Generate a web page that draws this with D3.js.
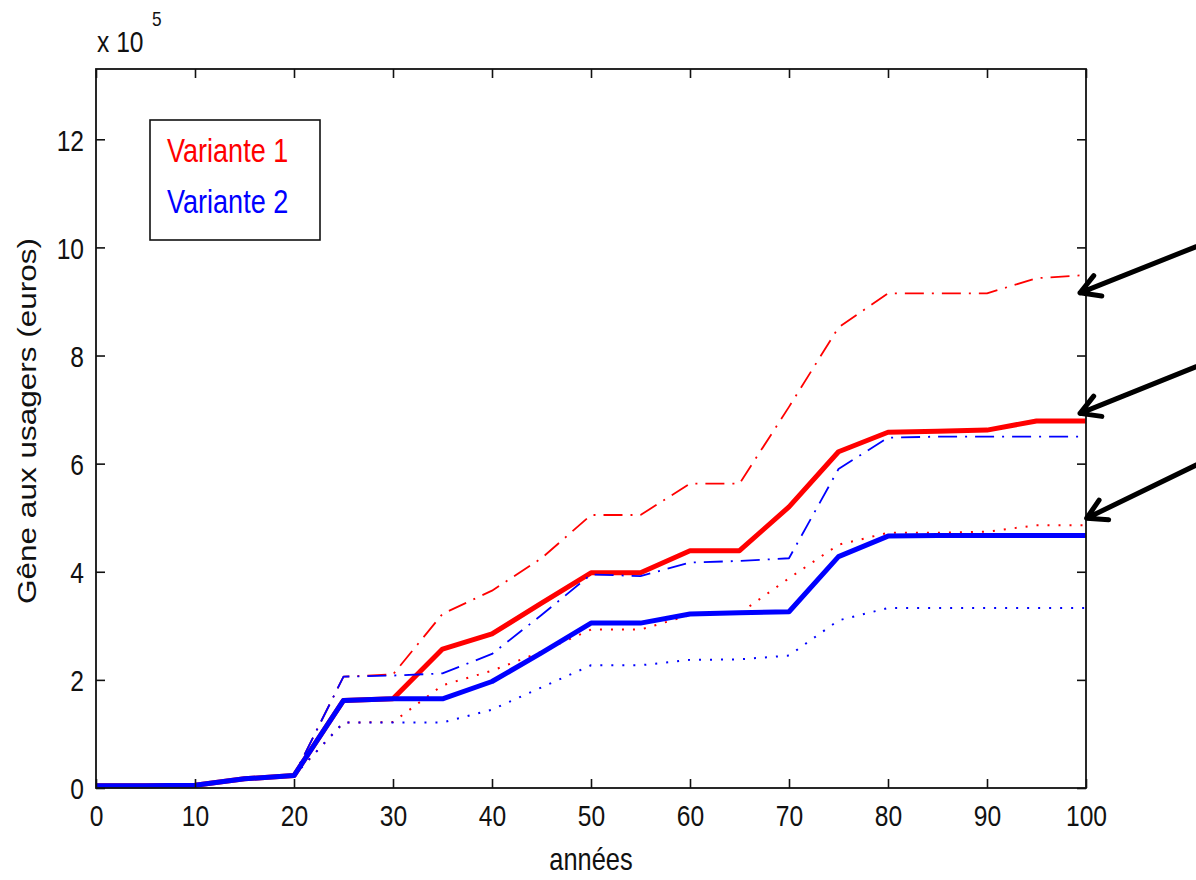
<!DOCTYPE html>
<html>
<head>
<meta charset="utf-8">
<script src="https://cdn.jsdelivr.net/npm/d3@7"></script>
<style>
  html, body { margin: 0; padding: 0; background: #fff; }
  svg { display: block; }
  text { font-family: "Liberation Sans", Arial, sans-serif; fill: #111; }
</style>
</head>
<body>
<svg id="chart" width="1196" height="880"></svg>
<script>
// ---------- data (values in units of 1e5 euros) ----------
const years = [0, 5, 10, 15, 20, 25, 30, 35, 40, 45, 50, 55, 60, 65, 70, 75, 80, 85, 90, 95, 100];

const v1Mid  = [0.04, 0.04, 0.05, 0.17, 0.23, 1.62, 1.65, 2.57, 2.85, 3.42, 3.98, 3.98, 4.39, 4.39, 5.2, 6.22, 6.58, 6.6, 6.62, 6.79, 6.79];
const v1High = [0.04, 0.04, 0.05, 0.17, 0.23, 2.06, 2.1, 3.22, 3.65, 4.25, 5.05, 5.05, 5.63, 5.63, 7.05, 8.52, 9.15, 9.15, 9.15, 9.43, 9.49];
const v1Low  = [0.04, 0.04, 0.05, 0.17, 0.23, 1.21, 1.22, 1.9, 2.17, 2.52, 2.93, 2.93, 3.2, 3.23, 3.88, 4.5, 4.72, 4.72, 4.74, 4.86, 4.86];

const v2Mid  = [0.04, 0.04, 0.05, 0.17, 0.23, 1.62, 1.65, 1.65, 1.97, 2.5, 3.05, 3.05, 3.22, 3.24, 3.26, 4.28, 4.66, 4.67, 4.67, 4.67, 4.67];
const v2High = [0.04, 0.04, 0.05, 0.17, 0.23, 2.06, 2.08, 2.12, 2.48, 3.2, 3.95, 3.92, 4.17, 4.2, 4.25, 5.9, 6.48, 6.5, 6.5, 6.5, 6.5];
const v2Low  = [0.04, 0.04, 0.05, 0.17, 0.23, 1.21, 1.21, 1.21, 1.45, 1.86, 2.27, 2.27, 2.37, 2.38, 2.45, 3.1, 3.33, 3.33, 3.33, 3.33, 3.33];

const xTicks = [0, 10, 20, 30, 40, 50, 60, 70, 80, 90, 100];
const yTicks = [0, 2, 4, 6, 8, 10, 12];
const legendLabels = ["Variante 1", "Variante 2"];
const xLabel = "années";
const yLabel = "Gêne aux usagers (euros)";

// annotation arrows (data coordinates: tip and tail)
const arrowTipX  = [99.4, 99.4, 100.07];
const arrowTipY  = [9.16, 6.93, 4.99];
const arrowTailX = [113, 113, 113];
const arrowTailY = [10.15, 7.93, 6.14];

// ---------- layout ----------
const margin = { left: 96, right: 1086, top: 69, bottom: 788 };
const RED = "#ff0000", BLUE = "#0000ff";
const SQ = 0.82; // horizontal squeeze of the original screenshot text

const svg = d3.select("#chart");
const x = d3.scaleLinear().domain([0, 100]).range([margin.left, margin.right]);
const y = d3.scaleLinear().domain([0, 13.3]).range([margin.bottom, margin.top]);

// ---------- series ----------
const series = [
  { v: v1Low,  color: RED,  width: 2,   dash: "2,9" },
  { v: v1High, color: RED,  width: 1.8, dash: "19,8,2,8" },
  { v: v1Mid,  color: RED,  width: 5,   dash: null },
  { v: v2Low,  color: BLUE, width: 2,   dash: "2,9" },
  { v: v2High, color: BLUE, width: 1.8, dash: "19,8,2,8" },
  { v: v2Mid,  color: BLUE, width: 5,   dash: null }
];
const line = d3.line().x((d, i) => x(years[i])).y(d => y(d));
const gLines = svg.append("g");
series.forEach(s => {
  gLines.append("path")
    .datum(s.v)
    .attr("d", line)
    .attr("fill", "none")
    .attr("stroke", s.color)
    .attr("stroke-width", s.width)
    .attr("stroke-linejoin", "round")
    .attr("stroke-dasharray", s.dash);
});

// ---------- axes (MATLAB style: inward ticks, full box) ----------
const tickLen = 9;
const styleAxis = g => {
  g.select(".domain").remove();
  g.selectAll(".tick line").attr("stroke", "#111").attr("stroke-width", 1.6);
};

const gx = svg.append("g")
  .attr("transform", `translate(0,${margin.bottom})`)
  .call(d3.axisBottom(x).tickValues(xTicks).tickSizeInner(-tickLen).tickSizeOuter(0).tickPadding(0));
styleAxis(gx);
gx.selectAll(".tick text")
  .attr("font-size", 30)
  .attr("y", 38).attr("dy", null)
  .attr("transform", `scale(${SQ},1)`)
  .attr("font-family", "Liberation Sans, Arial, sans-serif")
  .attr("fill", "#111");

const gxTop = svg.append("g")
  .attr("transform", `translate(0,${margin.top})`)
  .call(d3.axisTop(x).tickValues(xTicks).tickSizeInner(-tickLen).tickSizeOuter(0).tickFormat(""));
styleAxis(gxTop);

const gy = svg.append("g")
  .attr("transform", `translate(${margin.left},0)`)
  .call(d3.axisLeft(y).tickValues(yTicks).tickSizeInner(-tickLen).tickSizeOuter(0).tickPadding(0));
styleAxis(gy);
gy.selectAll(".tick text")
  .attr("font-size", 30)
  .attr("x", -12 / SQ).attr("dy", "0.36em")
  .attr("transform", `scale(${SQ},1)`)
  .attr("font-family", "Liberation Sans, Arial, sans-serif")
  .attr("fill", "#111");

const gyRight = svg.append("g")
  .attr("transform", `translate(${margin.right},0)`)
  .call(d3.axisRight(y).tickValues(yTicks).tickSizeInner(-tickLen).tickSizeOuter(0).tickFormat(""));
styleAxis(gyRight);

svg.append("rect")
  .attr("x", margin.left).attr("y", margin.top)
  .attr("width", margin.right - margin.left)
  .attr("height", margin.bottom - margin.top)
  .attr("fill", "none").attr("stroke", "#111").attr("stroke-width", 1.8);

// exponent label
const cx = margin.left + 1;
svg.append("text")
  .attr("transform", `translate(${cx},52) scale(${SQ},1)`)
  .attr("font-size", 30)
  .text("x 10");
svg.append("text")
  .attr("transform", `translate(${cx + 55},26) scale(${SQ},1)`)
  .attr("font-size", 21)
  .text("5");

// axis labels
svg.append("text")
  .attr("transform", `translate(${(margin.left + margin.right) / 2},870) scale(${SQ},1)`)
  .attr("text-anchor", "middle")
  .attr("font-size", 31)
  .text(xLabel);

svg.append("text")
  .attr("transform", `translate(36,421) rotate(-90) scale(1,${SQ})`)
  .attr("text-anchor", "middle")
  .attr("font-size", 31.5)
  .text(yLabel);

// ---------- legend ----------
const lg = svg.append("g");
lg.append("rect")
  .attr("x", 150).attr("y", 120).attr("width", 170).attr("height", 120)
  .attr("fill", "#fff").attr("stroke", "#111").attr("stroke-width", 1.6);
[RED, BLUE].forEach((c, i) => {
  lg.append("text")
    .attr("transform", `translate(167,${162 + i * 51}) scale(${SQ},1)`)
    .attr("font-size", 33)
    .style("fill", c)
    .text(legendLabels[i]);
});

// ---------- annotation arrows ----------
const ga = svg.append("g");
arrowTipX.forEach((tx, i) => {
  const px = x(tx), py = y(arrowTipY[i]);
  const qx = x(arrowTailX[i]), qy = y(arrowTailY[i]);
  const ang = Math.atan2(qy - py, qx - px);
  const L = 22, spread = 0.52;
  const a1 = [px + L * Math.cos(ang - spread), py + L * Math.sin(ang - spread)];
  const a2 = [px + L * Math.cos(ang + spread), py + L * Math.sin(ang + spread)];
  ga.append("path")
    .attr("d", `M${qx},${qy}L${px},${py}M${a1[0]},${a1[1]}L${px},${py}L${a2[0]},${a2[1]}`)
    .attr("fill", "none")
    .attr("stroke", "#000")
    .attr("stroke-width", 5)
    .attr("stroke-linecap", "round")
    .attr("stroke-linejoin", "round");
});
</script>
</body>
</html>
